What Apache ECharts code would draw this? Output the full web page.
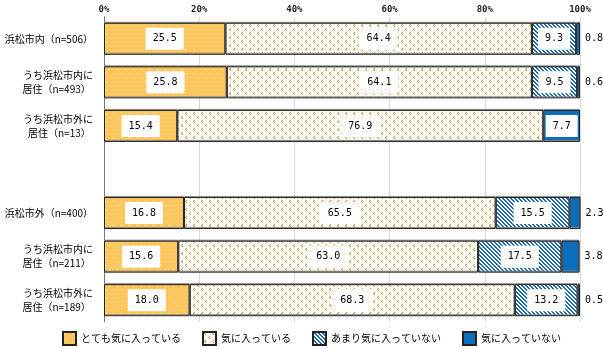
<!DOCTYPE html>
<html>
<head>
<meta charset="utf-8">
<script src="https://cdn.jsdelivr.net/npm/echarts@6/dist/echarts.min.js"></script>
<style>html,body{margin:0;padding:0;background:#fff;}#c{width:603px;height:349px;}</style>
</head>
<body>
<div id="c"></div>
<script>
const categories = ['浜松市内（n=506）', 'うち浜松市内に\n居住（n=493）', 'うち浜松市外に\n居住（n=13）', '', '浜松市外（n=400）', 'うち浜松市内に\n居住（n=211）', 'うち浜松市外に\n居住（n=189）'];
const seriesNames = ['とても気に入っている', '気に入っている', 'あまり気に入っていない', '気に入っていない'];
const veryLike = [25.5, 25.8, 15.4, null, 16.8, 15.6, 18.0];
const like = [64.4, 64.1, 76.9, null, 65.5, 63.0, 68.3];
const notMuch = [9.3, 9.5, null, null, 15.5, 17.5, 13.2];
const dislike = [0.8, 0.6, 7.7, null, 2.3, 3.8, 0.5];
const xTicks = [0, 20, 40, 60, 80, 100];

function makePattern(w, h, bg, fg, pts) {
  const c = document.createElement('canvas');
  c.width = w; c.height = h;
  const g = c.getContext('2d');
  g.fillStyle = bg; g.fillRect(0, 0, w, h);
  g.fillStyle = fg;
  pts.forEach(p => g.fillRect(p[0], p[1], 1, 1));
  return { image: c, repeat: 'repeat' };
}
const dotPts = [[1, 1], [5, 5]];
const chevPts = [[2, 0], [1, 1], [2, 2], [6, 4], [5, 5], [6, 6]];
const stripePts = [];
for (let y = 0; y < 4; y++) { stripePts.push([y, y]); stripePts.push([(y + 1) % 4, y]); }

const fills = [
  makePattern(8, 8, '#FFC65E', '#FFF4D6', dotPts),
  makePattern(8, 8, '#FFFDF6', '#D8963A', chevPts),
  makePattern(4, 4, '#FFFFFF', '#1E6BAA', stripePts),
  '#0A6EBD'
];
const values = [veryLike, like, notMuch, dislike];

const font = '"Noto Sans CJK JP", sans-serif';
const numFont = '"DejaVu Sans Mono", monospace';
const insideLabel = {
  show: true, position: 'inside', color: '#000', fontSize: 10, fontFamily: numFont,
  backgroundColor: '#fff', padding: [6, 7],
  formatter: p => (p.value == null ? '' : p.value.toFixed(1))
};

const series = values.map((arr, i) => ({
  name: seriesNames[i], type: 'bar', stack: 'all', barWidth: 32,
  itemStyle: { color: fills[i], borderColor: '#222', borderWidth: 1,
    shadowColor: '#8a8a8a', shadowOffsetY: -1, shadowBlur: 0 },
  label: insideLabel,
  emphasis: { disabled: true },
  data: arr.map(v => {
    if (v == null) return '-';
    if (i === 3 && v < 5) {
      return { value: v, label: { show: true, position: 'right', distance: 5, backgroundColor: 'transparent', padding: 0, color: '#000', fontSize: 10, fontFamily: numFont } };
    }
    return v;
  })
}));

const chart = echarts.init(document.getElementById('c'), null, { renderer: 'canvas' });
chart.setOption({
  animation: false,
  backgroundColor: '#fff',
  grid: { left: 104, right: 23, top: 17, bottom: 27 },
  legend: {
    left: 62, top: 331, padding: 0, itemWidth: 13, itemHeight: 13, itemGap: 21,
    textStyle: { fontSize: 10, fontFamily: font, color: '#000' },
    data: seriesNames.map(n => ({ name: n, icon: 'rect' }))
  },
  xAxis: {
    type: 'value', position: 'top', min: xTicks[0], max: xTicks[xTicks.length - 1], interval: 20,
    axisLine: { show: false }, axisTick: { show: false },
    axisLabel: { formatter: '{value}%', fontSize: 9, fontWeight: 'bold', color: '#222', margin: 3, fontFamily: numFont },
    splitLine: { show: true, lineStyle: { color: '#d9d9d9', width: 1 } }
  },
  yAxis: {
    type: 'category', inverse: true, data: categories,
    axisLine: { show: true, lineStyle: { color: '#777' } },
    axisTick: { show: false },
    axisLabel: { fontSize: 10, fontFamily: font, color: '#000', margin: 11, lineHeight: 14, align: 'right',
      formatter: v => v.includes('\n') ? v + ' ' : v }
  },
  series: series
});
</script>
</body>
</html>
